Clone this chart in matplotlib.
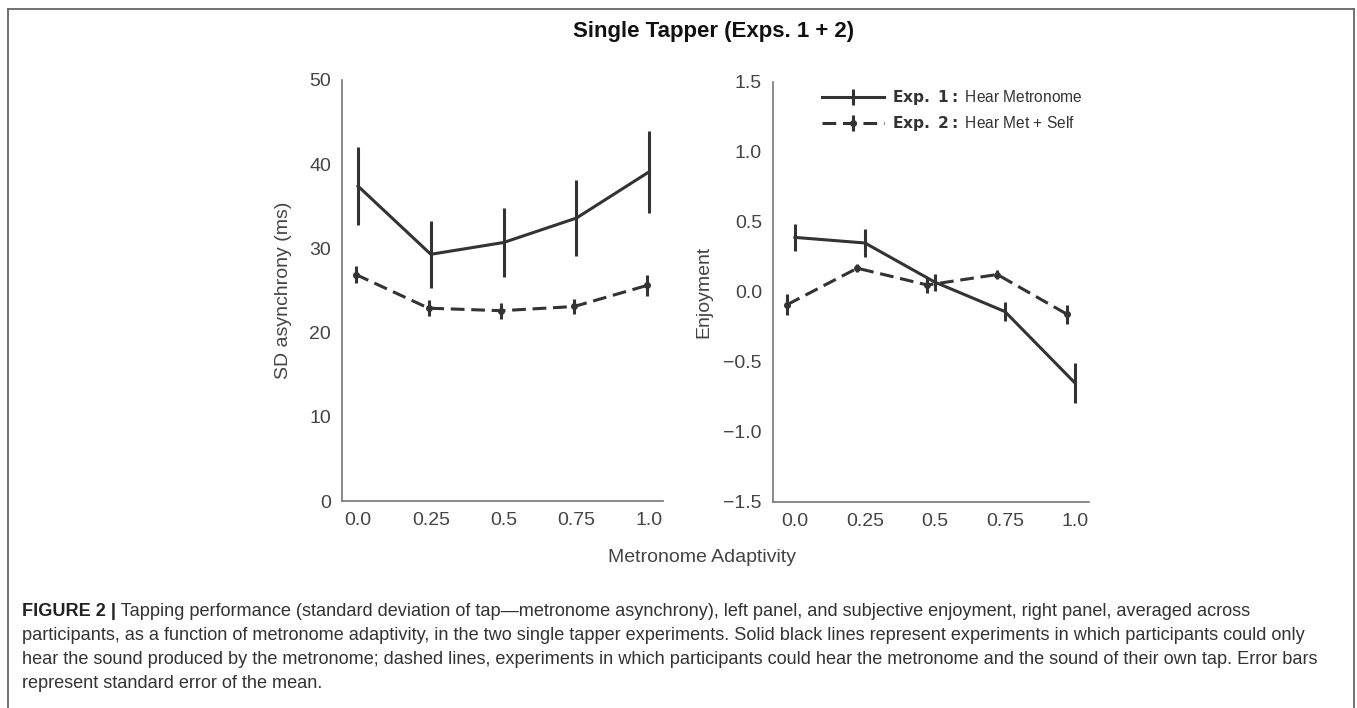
import numpy as np
import matplotlib
matplotlib.use('Agg')
import matplotlib.pyplot as plt
from matplotlib.lines import Line2D

plt.rcParams['font.family'] = ['Liberation Sans', 'DejaVu Sans']
plt.rcParams['mathtext.fontset'] = 'dejavusans'

# data
adaptivity = ['0.0', '0.25', '0.5', '0.75', '1.0']

sd_exp1 = [37.4, 29.3, 30.7, 33.6, 39.1]
sd_exp1_err = [4.65, 3.95, 4.1, 4.55, 4.85]
sd_exp2 = [26.9, 22.9, 22.6, 23.1, 25.6]
sd_exp2_err = [1.0, 0.95, 0.95, 0.9, 1.3]

enj_exp1 = [0.39, 0.35, 0.07, -0.14, -0.65]
enj_exp1_err = [0.095, 0.10, 0.06, 0.07, 0.145]
enj_exp2 = [-0.09, 0.17, 0.05, 0.125, -0.16]
enj_exp2_err = [0.075, 0.03, 0.055, 0.03, 0.065]

legend_labels = [r'$\bf{Exp.\ 1:}$ Hear Metronome', r'$\bf{Exp.\ 2:}$ Hear Met + Self']

caption_lines = [
    'Tapping performance (standard deviation of tap\u2014metronome asynchrony), left panel, and subjective enjoyment, right panel, averaged across',
    'participants, as a function of metronome adaptivity, in the two single tapper experiments. Solid black lines represent experiments in which participants could only',
    'hear the sound produced by the metronome; dashed lines, experiments in which participants could hear the metronome and the sound of their own tap. Error bars',
    'represent standard error of the mean.',
]

LINE_C = '#333333'
TEXT_C = '#444444'
W, H = 1357, 708

fig = plt.figure(figsize=(W / 100, H / 100), dpi=100)
fig.patch.set_facecolor('white')


def fx(px):
    return px / W


def fy(py):
    return 1 - py / H


def style_axis(ax):
    for s in ['top', 'right']:
        ax.spines[s].set_visible(False)
    for s in ['left', 'bottom']:
        ax.spines[s].set_color('#777777')
        ax.spines[s].set_linewidth(1.2)
    ax.tick_params(length=0, labelsize=14, labelcolor=TEXT_C, pad=8)


def draw_panel(ax, y1, e1, y2, e2, dodge):
    x = np.arange(len(adaptivity))
    h1 = ax.errorbar(x, y1, yerr=e1, fmt='-', color=LINE_C, lw=2.2,
                     elinewidth=2.2, capsize=0)
    h2 = ax.errorbar(x + dodge, y2, yerr=e2, fmt='o', ls=(0, (4.5, 2.2)),
                     color=LINE_C, lw=2.2, ms=4, elinewidth=2.2, capsize=0)
    ax.set_xticks(x)
    ax.set_xticklabels(adaptivity)
    return h1, h2


ax1 = fig.add_axes([fx(342), fy(501), fx(663 - 342), (501 - 80) / H])
draw_panel(ax1, sd_exp1, sd_exp1_err, sd_exp2, sd_exp2_err, -0.03)
ax1.set_xlim(-0.22, 4.19)
ax1.set_ylim(0, 50)
ax1.set_yticks([0, 10, 20, 30, 40, 50])
ax1.set_ylabel('SD asynchrony (ms)', fontsize=14, color=TEXT_C, labelpad=12)
style_axis(ax1)

ax2 = fig.add_axes([fx(773), fy(502), fx(1089 - 773), (502 - 82) / H])
h1, h2 = draw_panel(ax2, enj_exp1, enj_exp1_err, enj_exp2, enj_exp2_err, -0.11)
ax2.set_xlim(-0.314, 4.2)
ax2.set_ylim(-1.5, 1.5)
ax2.set_yticks([-1.5, -1.0, -0.5, 0.0, 0.5, 1.0, 1.5])
ax2.set_ylabel('Enjoyment', fontsize=14, color=TEXT_C, labelpad=8)
style_axis(ax2)

leg = ax2.legend([h1, h2], legend_labels, loc='upper right', bbox_to_anchor=(1.0, 1.0),
                 frameon=False, fontsize=11.2, handlelength=4.0, handletextpad=0.5,
                 borderaxespad=0.0, labelspacing=0.45)
for t in leg.get_texts():
    t.set_color('#333333')

fig.text(fx(714), fy(32), 'Single Tapper (Exps. 1 + 2)', ha='center', va='center',
         fontsize=16, fontweight='bold', color='#111111')
fig.text(fx(702), fy(558), 'Metronome Adaptivity', ha='center', va='center',
         fontsize=14, color=TEXT_C)

# caption below the chart
line_y = [611, 636, 660, 684]
cap_size = 13.1
head = fig.text(fx(22), fy(line_y[0]), 'FIGURE 2 |', ha='left', va='center',
                fontsize=cap_size, fontweight='bold', color='#222222')
fig.canvas.draw()
bb = head.get_window_extent()
fig.text(bb.x1 / W, fy(line_y[0]), ' ' + caption_lines[0], ha='left', va='center',
         fontsize=cap_size, color='#333333')
for yy, txt in zip(line_y[1:], caption_lines[1:]):
    fig.text(fx(22), fy(yy), txt, ha='left', va='center', fontsize=cap_size, color='#333333')

# frame around the figure (open at the bottom)
frame_c = '#666666'
fig.add_artist(Line2D([fx(8), fx(8)], [0, fy(9)], color=frame_c, lw=1.3))
fig.add_artist(Line2D([fx(8), fx(1354)], [fy(9), fy(9)], color=frame_c, lw=1.3))
fig.add_artist(Line2D([fx(1354), fx(1354)], [fy(9), 0], color=frame_c, lw=1.3))

fig.savefig('out.png', dpi=100)
